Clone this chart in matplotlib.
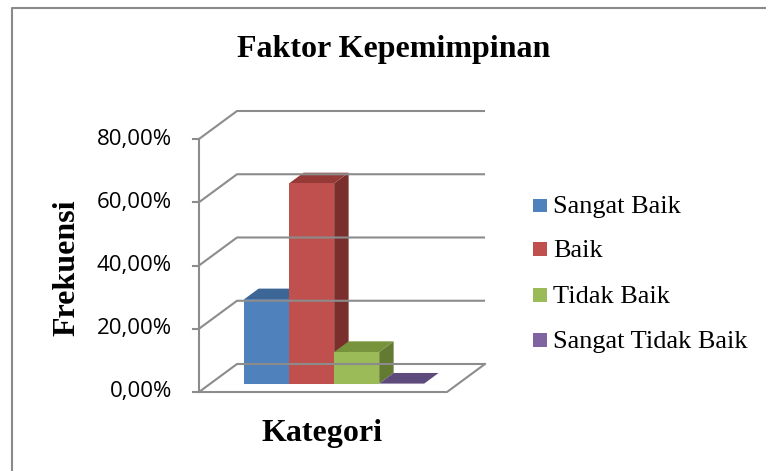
import matplotlib.pyplot as plt
from matplotlib.patches import Polygon
from matplotlib.lines import Line2D

categories = ['Sangat Baik', 'Baik', 'Tidak Baik', 'Sangat Tidak Baik']
values = [26.67, 63.33, 10.0, 0.0]
tick_values = [0, 20, 40, 60, 80]
tick_labels = ['0,00%', '20,00%', '40,00%', '60,00%', '80,00%']

front_colors = ['#4F81BD', '#C0504D', '#9BBB59', '#8064A2']
top_colors = ['#3C6696', '#953A37', '#77933C', '#5F4B7B']
side_colors = ['#335680', '#7B2F2D', '#627A31', '#4F3E66']
grid_color = '#8C8C8C'

W, H = 766, 471
fig = plt.figure(figsize=(W / 100, H / 100), dpi=100)

# front plane of the 3d box: x in bar-width units, y in percent
ax = fig.add_axes([199 / W, (H - 392) / H, (447 - 199) / W, (392 - 139) / H])
ax.set_xlim(0, 5.51)
ax.set_ylim(0, 80)
ax.axis('off')

DX, DY = 38 / 45, 28 / (253 / 80)   # depth offset of the back wall
x_end = 5.51


def pt(x, y, d):
    return (x + d * DX, y + d * DY)


# back wall gridlines and side-wall diagonals
for v in tick_values:
    xs = [0, DX, x_end + DX]
    ys = [v, v + DY, v + DY]
    ax.plot(xs, ys, color=grid_color, lw=1.5, clip_on=False, solid_capstyle='butt')
    ax.plot([-0.13, 0], [v, v], color=grid_color, lw=1.5, clip_on=False)
# floor front edge and right diagonal
ax.plot([0, x_end, x_end + DX], [0, 0, DY], color=grid_color, lw=1.5, clip_on=False)
# front vertical axis
ax.plot([0, 0], [0, 80], color=grid_color, lw=1.5, clip_on=False)

for v, lab in zip(tick_values, tick_labels):
    ax.text(-0.6, v, lab, ha='right', va='center', fontsize=16,
            family='Open Sans', color='#000000')

# bars
d0, d1 = 0.3, 0.68
for i, (val, fc, tc, sc) in enumerate(zip(values, front_colors, top_colors, side_colors)):
    x0, x1 = 0.75 + i, 1.75 + i
    side = [pt(x1, 0, d0), pt(x1, 0, d1), pt(x1, val, d1), pt(x1, val, d0)]
    top = [pt(x0, val, d0), pt(x1, val, d0), pt(x1, val, d1), pt(x0, val, d1)]
    front = [pt(x0, 0, d0), pt(x1, 0, d0), pt(x1, val, d0), pt(x0, val, d0)]
    if val > 0:
        ax.add_patch(Polygon(side, closed=True, fc=sc, ec='none', clip_on=False))
    ax.add_patch(Polygon(top, closed=True, fc=tc, ec='none', clip_on=False))
    if val > 0:
        ax.add_patch(Polygon(front, closed=True, fc=fc, ec='none', clip_on=False))

# legend
leg_y = [205, 248.5, 294.5, 339.5]
for lab, col, y in zip(categories, front_colors, leg_y):
    fig.patches.append(plt.Rectangle((533 / W, 1 - (y + 7) / H), 13.5 / W, 13.5 / H,
                                     transform=fig.transFigure, fc=col, ec='none'))
    fig.text(553 / W, 1 - y / H, lab, ha='left', va='center_baseline',
             fontsize=19, family='Liberation Serif')

fig.text(394 / W, 1 - 57 / H, 'Faktor Kepemimpinan', ha='center', va='baseline',
         fontsize=23, fontweight='bold', family='Liberation Serif')
fig.text(67 / W, 1 - 268 / H, 'Frekuensi', ha='center', va='center', rotation=90,
         fontsize=23, fontweight='bold', family='Liberation Serif')
fig.text(322 / W, 1 - 441 / H, 'Kategori', ha='center', va='baseline',
         fontsize=23, fontweight='bold', family='Liberation Serif')

# chart border (only top and left edges fall inside the picture)
fig.lines.append(Line2D([11.5 / W, 11.5 / W, 1], [0, 1 - 7.5 / H, 1 - 7.5 / H],
                        transform=fig.transFigure, color='#8A8A8A', lw=1.5))

fig.savefig('out.png', dpi=100)
